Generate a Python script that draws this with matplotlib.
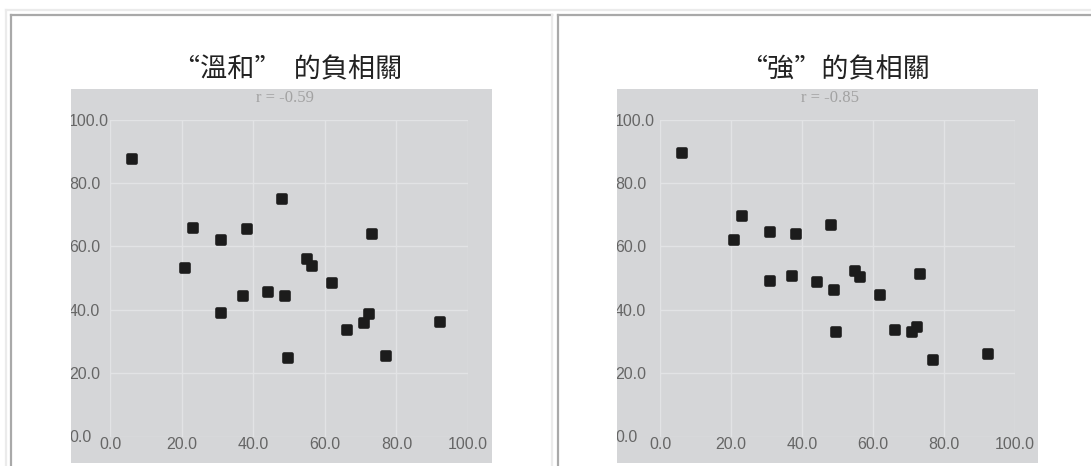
import numpy as np
import matplotlib
matplotlib.use('Agg')
import matplotlib.pyplot as plt
from matplotlib.markers import MarkerStyle

plt.rcParams['font.family'] = ['Noto Sans CJK TC', 'DejaVu Sans']

W, H = 1091, 466

titles = ['\u201c溫和\u201d  的負相關', '\u201c強\u201d的負相關']
r_labels = ['r = -0.59', 'r = -0.85']
ticks = [0, 20, 40, 60, 80, 100]
tick_labels = ['0.0', '20.0', '40.0', '60.0', '80.0', '100.0']

# same x values in both panels
x_vals = [6.2, 48.1, 23.2, 38.3, 31.1, 73.1, 20.9, 54.9, 56.3, 62.1,
          37.1, 44.1, 48.9, 31.1, 72.4, 70.9, 66.1, 92.3, 49.7, 77.0]
y_mild = [87.6, 74.8, 65.9, 65.5, 62.1, 64.0, 53.2, 56.0, 53.7, 48.4,
          44.2, 45.6, 44.2, 38.9, 38.6, 35.7, 33.7, 36.1, 24.7, 25.3]
y_strong = [89.5, 66.6, 69.6, 63.9, 64.5, 51.2, 62.0, 52.3, 50.2, 44.5,
            50.7, 48.7, 46.3, 49.2, 34.4, 32.9, 33.6, 26.0, 33.1, 24.1]


def rect(x0, y0, x1, y1):
    return [x0 / W, 1 - y1 / H, (x1 - x0) / W, (y1 - y0) / H]


fig = plt.figure(figsize=(W / 100, H / 100), dpi=100)
fig.patch.set_facecolor('white')

panels = [
    dict(box=(71, 89, 492, 463), data=(110, 119.5, 468, 436.5),
         title_x=288, r_x=285, y=y_mild),
    dict(box=(617, 89, 1038, 463), data=(660, 119.5, 1015, 436.5),
         title_x=835, r_x=830, y=y_strong),
]

dot = MarkerStyle('s', joinstyle='round')

for i, p in enumerate(panels):
    box = fig.add_axes(rect(*p['box']))
    box.set_facecolor('#d5d6d8')
    box.set_xticks([])
    box.set_yticks([])
    for s in box.spines.values():
        s.set_visible(False)

    ax = fig.add_axes(rect(*p['data']))
    ax.patch.set_alpha(0)
    ax.set_xlim(0, 100)
    ax.set_ylim(0, 100)
    ax.set_xticks(ticks)
    ax.set_yticks(ticks)
    ax.set_xticklabels(tick_labels, family='Liberation Sans')
    ax.set_yticklabels(tick_labels, family='Liberation Sans')
    ax.grid(color='#e2e3e5', lw=1)
    ax.set_axisbelow(True)
    for s in ax.spines.values():
        s.set_visible(False)
    ypad = (p['data'][0] - p['box'][0] + 2) * 0.72
    ax.tick_params(axis='both', length=0, labelsize=11.5, labelcolor='#666666')
    ax.tick_params(axis='x', pad=0.5)
    ax.tick_params(axis='y', pad=ypad)
    for lbl in ax.get_yticklabels():
        lbl.set_horizontalalignment('left')
        lbl.set_clip_path(box.patch)
    ax.plot(x_vals, p['y'], linestyle='none', marker=dot, color='#1c1c1c',
            ms=5.4, mew=2.6, mec='#1c1c1c', clip_on=False)

# page decoration: table borders, cell titles, r values
ov = fig.add_axes([0, 0, 1, 1], zorder=10)
ov.set_xlim(0, W)
ov.set_ylim(H, 0)
ov.axis('off')
ov.patch.set_alpha(0)
light, dark = '#ebebeb', '#a9a9a9'
ov.plot([6, W], [10, 10], color=light, lw=1.6)
ov.plot([6, 6], [10, H], color=light, lw=1.6)
ov.plot([11, 552], [14.5, 14.5], color=dark, lw=1.6)
ov.plot([11, 11], [14.5, H], color=dark, lw=1.6)
ov.plot([552, 552], [14.5, H], color=light, lw=1.6)
ov.plot([557.5, W], [14.5, 14.5], color=dark, lw=1.6)
ov.plot([557.5, 557.5], [14.5, H], color=dark, lw=1.6)

for t, lab, p in zip(titles, r_labels, panels):
    ov.text(p['title_x'], 70, t, ha='center', va='center', fontsize=19.5,
            fontweight='light', color='#222222')
    ov.text(p['r_x'], 98, lab, ha='center', va='center', fontsize=12,
            family='Liberation Serif', color='#a2a2a2')

fig.savefig('out.png', dpi=100)
